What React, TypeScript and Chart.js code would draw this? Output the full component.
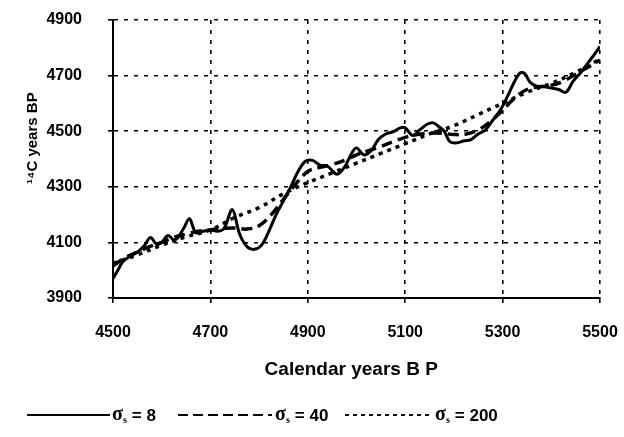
import React, { useEffect, useRef } from "react";
import { Chart, registerables } from "chart.js";

Chart.register(...registerables);

// ---- data ----
const xTicks = [4500, 4700, 4900, 5100, 5300, 5500];
const yTicks = [3900, 4100, 4300, 4500, 4700, 4900];

const seriesLabels = ["σs = 8", "σs = 40", "σs = 200"];
const sigmaValues = ["8", "40", "200"];

const solidYears = [
  4500, 4510, 4520, 4535, 4550, 4565, 4577, 4590, 4600, 4613, 4627, 4645, 4657, 4670, 4685,
  4700, 4715, 4728, 4745, 4760, 4775, 4790, 4805, 4820, 4835, 4850, 4865, 4880, 4895, 4910,
  4925, 4940, 4960, 4975, 4990, 5000, 5015, 5030, 5045, 5060, 5075, 5090, 5100, 5115, 5130,
  5145, 5158, 5170, 5180, 5192, 5205, 5220, 5235, 5250, 5265, 5280, 5295, 5310, 5322, 5335,
  5345, 5357, 5370, 5385, 5400, 5415, 5430, 5445, 5460, 5475, 5490, 5500,
];
const solidValues = [
  3970, 4000, 4030, 4050, 4065, 4090, 4118, 4092, 4100, 4125, 4108, 4150, 4185, 4135, 4140,
  4145, 4140, 4150, 4218, 4130, 4085, 4075, 4090, 4140, 4200, 4250, 4300, 4355, 4392, 4395,
  4378, 4375, 4345, 4370, 4420, 4440, 4415, 4430, 4470, 4490, 4498, 4512, 4512, 4485, 4505,
  4525, 4530, 4515, 4500, 4462, 4458, 4465, 4470, 4490, 4505, 4540, 4575, 4625, 4670, 4708,
  4708, 4675, 4662, 4660, 4655, 4650, 4640, 4680, 4710, 4745, 4780, 4805,
];

const dashedYears = [
  4500, 4525, 4550, 4575, 4600, 4625, 4650, 4675, 4700, 4725, 4750, 4775, 4800, 4825, 4850,
  4875, 4900, 4925, 4950, 4975, 5000, 5025, 5050, 5075, 5100, 5125, 5150, 5175, 5200, 5225,
  5250, 5275, 5300, 5325, 5350, 5375, 5400, 5425, 5450, 5475, 5500,
];
const dashedValues = [
  4015, 4045, 4065, 4085, 4100, 4118, 4130, 4140, 4145, 4150, 4152, 4148, 4160, 4200, 4255,
  4310, 4355, 4370, 4380, 4395, 4415, 4430, 4445, 4462, 4478, 4488, 4493, 4493, 4488, 4490,
  4505, 4535, 4575, 4620, 4650, 4660, 4665, 4680, 4705, 4730, 4756,
];

const dottedYears = [
  4500, 4550, 4600, 4650, 4700, 4750, 4800, 4850, 4900, 4950, 5000, 5050, 5100, 5150, 5200,
  5250, 5300, 5350, 5400, 5450, 5500,
];
const dottedValues = [
  4025, 4055, 4090, 4120, 4145, 4190, 4225, 4275, 4315, 4350, 4385, 4420, 4455, 4490, 4520,
  4560, 4600, 4640, 4672, 4712, 4760,
];

const toPoints = (xs: number[], ys: number[]) => xs.map((x, i) => ({ x, y: ys[i] }));

// legend layout (pixel placement of the custom legend)
const legendY = 415;
const legendItems = [
  { lineStart: 27, lineEnd: 110, textX: 112, dash: [] as number[] },
  { lineStart: 178, lineEnd: 272, textX: 275, dash: [10, 5] },
  { lineStart: 345, lineEnd: 430, textX: 435, dash: [4, 4] },
];

const sigmaLegend = {
  id: "sigmaLegend",
  afterDraw(chart: any) {
    const ctx = chart.ctx as CanvasRenderingContext2D;
    legendItems.forEach((it, i) => {
      ctx.save();
      ctx.strokeStyle = "#000";
      ctx.lineWidth = 2;
      ctx.setLineDash(it.dash);
      ctx.beginPath();
      ctx.moveTo(it.lineStart, legendY);
      ctx.lineTo(it.lineEnd, legendY);
      ctx.stroke();
      ctx.setLineDash([]);
      ctx.fillStyle = "#000";
      ctx.textBaseline = "alphabetic";
      ctx.textAlign = "left";
      ctx.font = "bold 20px 'Liberation Serif'";
      let x = it.textX;
      ctx.fillText("σ", x, legendY + 5);
      x += ctx.measureText("σ").width;
      ctx.font = "bold 10px 'Liberation Serif'";
      ctx.fillText("s", x, legendY + 8);
      x += ctx.measureText("s").width + 5;
      ctx.font = "bold 17px 'Liberation Sans Narrow', 'Liberation Sans'";
      ctx.fillText("= " + sigmaValues[i], x, legendY + 6);
      ctx.restore();
    });
  },
};

export default function App() {
  const ref = useRef<HTMLCanvasElement | null>(null);

  useEffect(() => {
    if (!ref.current) return;
    const chart = new Chart(ref.current, {
      type: "line",
      data: {
        datasets: [
          {
            label: seriesLabels[0],
            data: toPoints(solidYears, solidValues),
            borderColor: "#000",
            borderWidth: 3,
            pointRadius: 0,
            tension: 0.35,
            fill: false,
          },
          {
            label: seriesLabels[1],
            data: toPoints(dashedYears, dashedValues),
            borderColor: "#000",
            borderWidth: 3.5,
            borderDash: [11, 6],
            pointRadius: 0,
            tension: 0.4,
            fill: false,
          },
          {
            label: seriesLabels[2],
            data: toPoints(dottedYears, dottedValues),
            borderColor: "#000",
            borderWidth: 3.5,
            borderDash: [4, 5],
            pointRadius: 0,
            tension: 0.4,
            fill: false,
          },
        ],
      },
      options: {
        responsive: false,
        animation: false,
        layout: { padding: { top: 20, right: 24, left: 0, bottom: 0 } },
        plugins: {
          legend: { display: false },
          tooltip: { enabled: false },
        },
        scales: {
          x: {
            type: "linear",
            min: 4500,
            max: 5500,
            afterBuildTicks: (scale: any) => {
              scale.ticks = xTicks.map((v) => ({ value: v }));
            },
            afterFit: (scale: any) => {
              scale.height = 139;
              scale.paddingLeft = 0;
              scale.paddingRight = 0;
            },
            ticks: {
              color: "#000",
              padding: 20,
              font: { family: "'Liberation Sans', Arial", size: 16, weight: "bold" },
              callback: (v: any) => String(v),
            },
            grid: {
              color: "#000",
              lineWidth: 1.6,
              tickLength: 5,
              tickBorderDash: [],
            },
            border: { display: true, color: "#000", width: 2, dash: [4, 6] },
            title: {
              display: true,
              text: "Calendar years B P  ",
              color: "#000",
              font: { family: "'Liberation Sans', Arial", size: 19, weight: "bold" },
              padding: { top: 0, bottom: 56 },
            },
          },
          y: {
            type: "linear",
            min: 3900,
            max: 4900,
            afterBuildTicks: (scale: any) => {
              scale.ticks = yTicks.map((v) => ({ value: v }));
            },
            afterFit: (scale: any) => {
              scale.width = 113;
              scale.paddingTop = 0;
              scale.paddingBottom = 0;
            },
            ticks: {
              color: "#000",
              padding: 26,
              font: { family: "'Liberation Sans', Arial", size: 16, weight: "bold" },
              callback: (v: any) => String(v),
            },
            grid: {
              color: "#000",
              lineWidth: 1.6,
              tickLength: 5,
              tickBorderDash: [],
            },
            border: { display: true, color: "#000", width: 2, dash: [4, 6] },
            title: {
              display: true,
              text: "          ¹⁴C years BP",
              color: "#000",
              font: { family: "'Liberation Sans', Arial", size: 15, weight: "bold" },
              padding: { top: 24, bottom: 0 },
            },
          },
        },
      },
      plugins: [sigmaLegend],
    });
    return () => chart.destroy();
  }, []);

  return (
    <div style={{ position: "fixed", left: 0, top: 0, width: 624, height: 437, background: "#fff" }}>
      <canvas ref={ref} width={624} height={437} style={{ width: 624, height: 437 }} />
    </div>
  );
}
